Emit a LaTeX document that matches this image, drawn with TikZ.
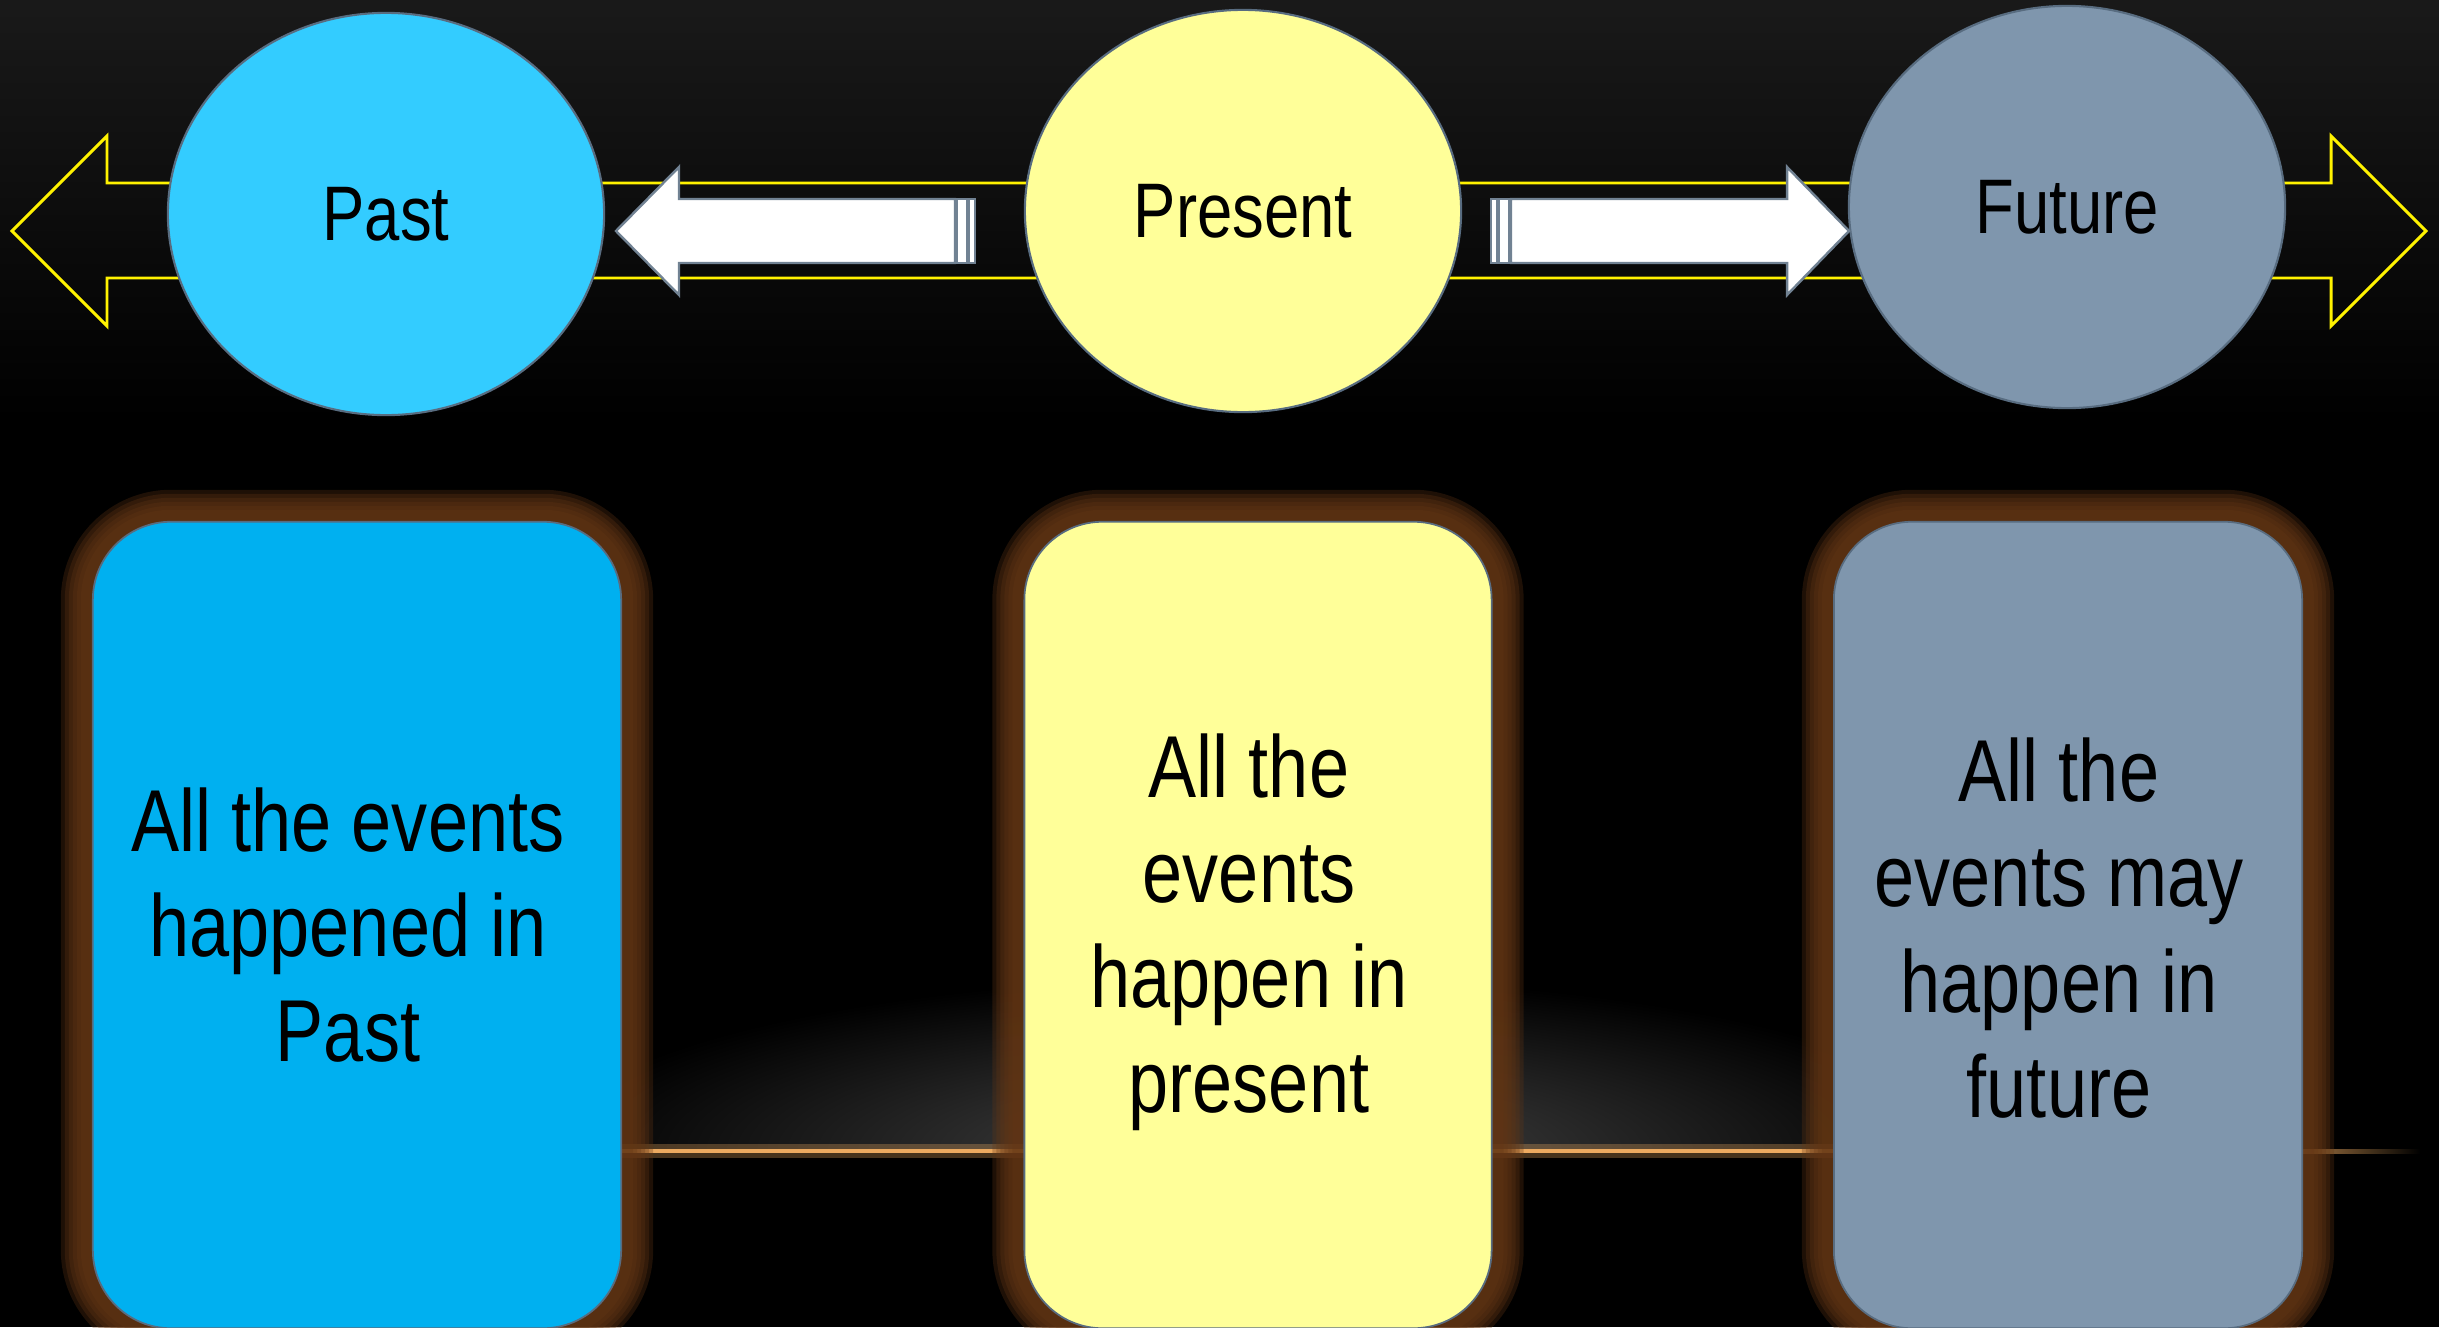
\documentclass[tikz,border=0pt]{standalone}
\usepackage{fontspec}
\setmainfont[FakeStretch=0.82]{Liberation Sans}
\usetikzlibrary{shapes.geometric, positioning, calc}
\definecolor{pastblue}{RGB}{51,204,255}
\definecolor{pastfill}{RGB}{0,176,240}
\definecolor{nowyellow}{RGB}{255,255,153}
\definecolor{futgray}{RGB}{127,150,173}
\definecolor{edgegray}{RGB}{88,108,128}
\definecolor{glowbrown}{RGB}{100,54,20}
\definecolor{lineorange}{RGB}{236,170,96}

\begin{document}
\begin{tikzpicture}[x=0.01cm, y=-0.01cm,
  timecircle/.style={ellipse, draw=edgegray, line width=0.6pt, inner sep=0pt,
    minimum width=4.36cm, minimum height=4.02cm, font=\fontsize{22}{26}\selectfont},
  glow/.style={preaction={draw=glowbrown, draw opacity=.3, line width=#1}},
  eventbox/.style={draw=edgegray, line width=0.5pt, rounded corners=0.78cm,
    inner sep=0pt, minimum height=8.06cm,
    glow=0.64cm, glow=0.56cm, glow=0.48cm, glow=0.40cm, glow=0.32cm, glow=0.24cm},
  eventtext/.style={align=center, inner sep=0pt, font=\fontsize{25}{29.9}\selectfont},
  whitearrow/.style={fill=white, draw=edgegray!85, line width=0.7pt, line join=miter}]

  \useasboundingbox (0,0) rectangle (2439,1327);
  \clip (0,0) rectangle (2439,1327);
  \fill[black] (0,0) rectangle (2439,1327);
  \shade[top color=black!90, bottom color=black] (0,0) rectangle (2439,420);

  \begin{scope}
    \clip (0,0) rectangle (2439,1151);
    \shade[inner color=black!72, outer color=black] (1260,1151) ellipse [x radius=720, y radius=175];
  \end{scope}
  \draw[lineorange, line width=4pt, opacity=.3] (600,1151) -- (1840,1151);
  \draw[lineorange, line width=0.9pt] (600,1151) -- (1840,1151);
  \shade[left color=lineorange!70!black, right color=black] (2300,1149) rectangle (2420,1153);

  \node[eventbox, fill=pastfill, minimum width=5.28cm] (pastev) at (357,925) {};
  \node[eventbox, fill=nowyellow, minimum width=4.67cm] (nowev) at (1258,925) {};
  \node[eventbox, fill=futgray, minimum width=4.68cm] (futev) at (2068,925) {};
  \node[eventtext] (pasttxt) at ([xshift=-0.09cm]pastev.center) {All the events\\happened in\\Past};
  \node[eventtext] (nowtxt) at ([xshift=-0.09cm, yshift=-0.07cm]nowev.center) {All the\\events\\happen in\\present};
  \node[eventtext] (futtxt) at ([xshift=-0.09cm, yshift=-0.03cm]futev.center) {All the\\events may\\happen in\\future};

  \draw[yellow, line width=0.85pt, line join=miter] (12,231) -- (107,136) -- (107,183) -- (2331,183)
    -- (2331,136) -- (2426,231) -- (2331,326) -- (2331,278) -- (107,278) -- (107,326) -- cycle;

  \node[timecircle, fill=pastblue] (past) at (386,214) {Past};
  \node[timecircle, fill=nowyellow] (now) at (1243,211) {Present};
  \node[timecircle, fill=futgray] (fut) at (2067,207) {Future};

  \draw[whitearrow] (616,231) -- (679,167) -- (679,199) -- (955,199) -- (955,263) -- (679,263) -- (679,295) -- cycle;
  \draw[whitearrow] (957,199) rectangle (967,263);
  \draw[whitearrow] (969,199) rectangle (975,263);

  \draw[whitearrow] (1849,231) -- (1787,167) -- (1787,199) -- (1511,199) -- (1511,263) -- (1787,263) -- (1787,295) -- cycle;
  \draw[whitearrow] (1499,199) rectangle (1509,263);
  \draw[whitearrow] (1491,199) rectangle (1497,263);
\end{tikzpicture}
\end{document}
